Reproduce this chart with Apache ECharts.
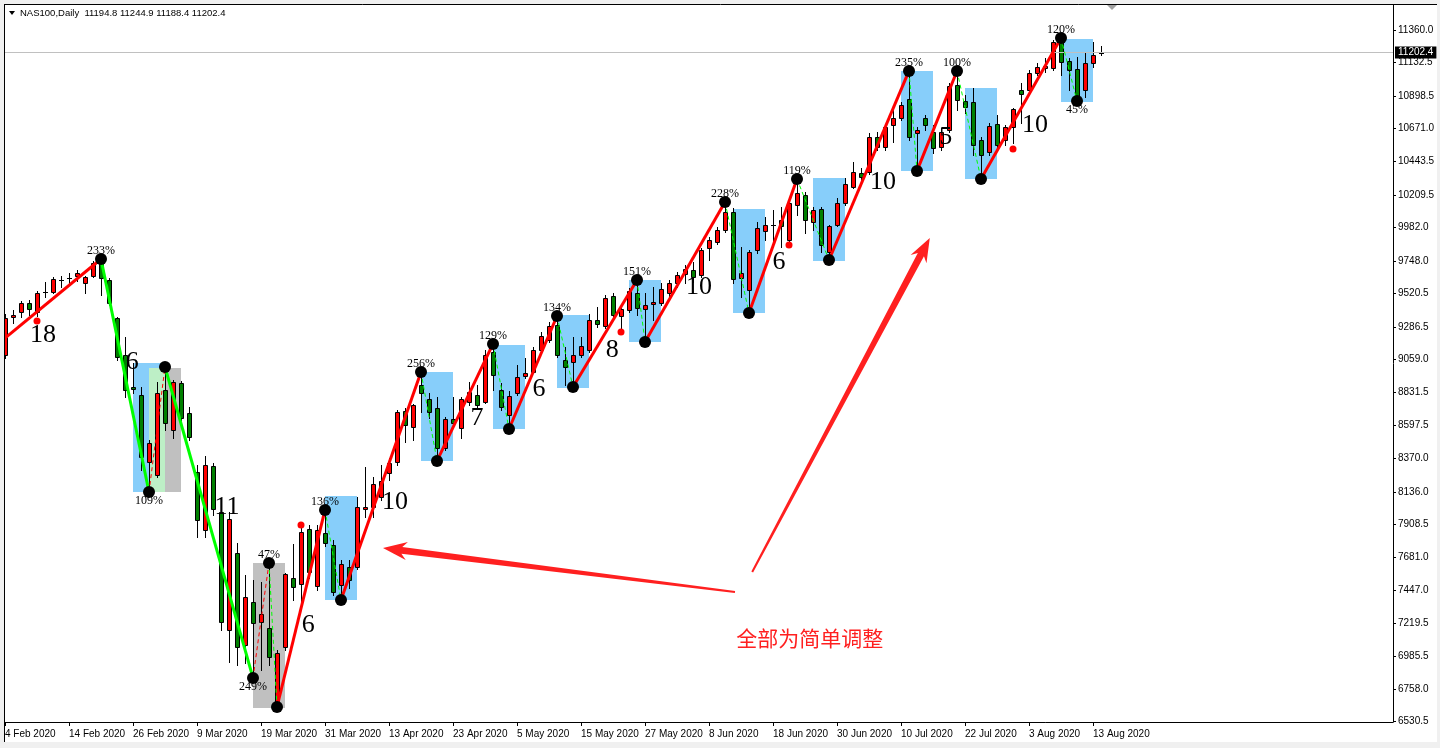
<!DOCTYPE html>
<html>
<head>
<meta charset="utf-8">
<title>NAS100 Daily</title>
<script src="https://cdn.jsdelivr.net/npm/echarts@6.0.0/dist/echarts.min.js"></script>
<style>
html,body{margin:0;padding:0;background:#f0f0f0;overflow:hidden;}
#chart{width:1440px;height:748px;}
</style>
</head>
<body>
<div id="chart"></div>
<script>
// ---------------- data ----------------
const symbolName = 'NAS100';
const periodName = 'Daily';

const opens = [9091,9356,9391,9454,9391,9524,9531,9607,9621,9642,9593,9642,9754,9614,9349,9091,8867,8811,8344,8253,
8847,8567,8895,8686,8274,7869,8316,7995,7171,7708,7066,7366,7227,7185,6661,7052,7534,7492,7876,7478,
7848,7764,7485,7611,7611,8016,8030,8099,8267,8344,8700,8588,8881,8784,8721,8442,8644,8581,8763,8811,
8763,9112,8847,8672,8825,8944,8972,9126,9196,9300,9056,9042,9091,9126,9335,9293,9503,9363,9405,9524,
9412,9447,9454,9524,9593,9656,9684,9649,9838,9880,9964,10089,9628,9545,9824,9957,9992,10033,9894,10138,
10208,10020,10110,9810,9999,10152,10264,10362,10369,10613,10543,10697,10746,10878,10641,10746,10648,10543,10662,10976,
10864,10857,10592,10508,10704,10592,10683,10941,10941,11060,11095,11095,11276,11144,11088,10941,11130,11194.8];
const highs = [9377,9405,9468,9475,9538,9600,9635,9642,9663,9684,9642,9747,9768,9628,9356,9216,9035,8867,8497,8902,
9007,8916,8909,8728,8323,8386,8337,8030,7995,7778,7555,7520,7506,7639,7031,7569,7771,7904,7904,7904,
8009,7799,7659,7659,8099,8309,8239,8323,8372,8707,8721,8749,8972,8825,8798,8658,8798,8798,8902,8881,
9126,9168,8895,8839,9021,9070,9147,9251,9321,9363,9147,9216,9216,9377,9426,9510,9524,9426,9559,9614,
9524,9566,9593,9614,9670,9719,9740,9838,9915,9985,10159,10117,9845,9824,10020,10054,10103,10124,10173,10320,
10229,10124,10124,9999,10187,10327,10438,10396,10641,10648,10697,10801,10857,11074,10683,10766,10697,10676,10990,11074,
10906,10955,10613,10711,10766,10697,10815,10990,11081,11130,11165,11290,11304,11165,11172,11199,11276,11244.9];
const lows = [9070,9314,9356,9370,9363,9496,9524,9566,9580,9607,9524,9635,9510,9440,9056,8798,8826,8288,8141,8239,
8567,8511,8637,8497,7820,7820,7974,7171,6947,6926,6940,6836,6892,6926,6633,7031,7380,7359,7534,7450,
7757,7415,7380,7464,7597,7960,7960,8078,8218,8323,8483,8497,8693,8651,8351,8428,8588,8511,8742,8721,
8756,8847,8707,8574,8811,8930,8965,9112,9182,9077,8881,8867,9077,9112,9286,9279,9356,9265,9391,9370,
9182,9335,9440,9503,9566,9593,9600,9635,9754,9866,9950,9593,9496,9384,9803,9894,9873,9845,9880,10068,
9943,9964,9810,9754,9992,10138,10257,10313,10355,10522,10522,10578,10732,10592,10376,10662,10501,10522,10648,10801,
10780,10487,10320,10487,10536,10557,10571,10711,10927,11046,11067,11081,11046,10941,10864,10892,11102,11188.4];
const closes = [9349,9370,9454,9412,9524,9531,9621,9614,9628,9663,9635,9733,9628,9454,9077,8847,8853,8379,8476,8825,
8616,8902,8651,8518,7939,8323,8016,7227,7946,7052,7401,7220,7283,6982,7010,7562,7471,7855,7576,7869,
7778,7436,7632,7520,8030,8030,8190,8211,8337,8693,8602,8742,8825,8693,8442,8644,8616,8784,8832,8742,
9091,8951,8728,8804,8937,8965,9126,9223,9293,9091,9007,9091,9154,9335,9307,9489,9370,9412,9538,9419,
9440,9461,9552,9593,9649,9691,9635,9824,9894,9964,10089,9621,9663,9810,9978,9999,9999,9992,10152,10222,
10033,10103,9859,9992,10152,10285,10369,10334,10613,10543,10683,10746,10836,10613,10662,10697,10536,10648,10969,10871,
10822,10557,10487,10690,10557,10683,10808,10913,11060,11102,11109,11276,11137,11081,10892,11130,11185,11202.4];

// x axis: bar number of each date label, and the labels
const xTickBars = [0,8,16,24,32,40,48,56,64,72,80,88,96,104,112,120,128,136];
const xTickLabels = ['4 Feb 2020','14 Feb 2020','26 Feb 2020','9 Mar 2020','19 Mar 2020','31 Mar 2020',
  '13 Apr 2020','23 Apr 2020','5 May 2020','15 May 2020','27 May 2020','8 Jun 2020','18 Jun 2020',
  '30 Jun 2020','10 Jul 2020','22 Jul 2020','3 Aug 2020','13 Aug 2020'];
// price axis labels
const yTicks = [6530.5,6758.0,6985.5,7219.5,7447.0,7681.0,7908.5,8136.0,8370.0,8597.5,8831.5,
  9059.0,9286.5,9520.5,9748.0,9982.0,10209.5,10443.5,10671.0,10898.5,11132.5,11360.0];

// zigzag pivots (bar, price)
const pivotBar   = [0,12,18,20,31,33,34,40,42,52,54,61,63,69,71,79,80,90,93,99,103,113,114,119,122,132,134];
const pivotPrice = [9209,9761,8134,9007,6836,7639,6633,8009,7380,8972,8351,9168,8574,9363,8867,9614,9182,10159,9384,10320,9754,11074,10376,11074,10320,11304,10864];
const thickRedSeg   = [[0,1],[6,7],[8,9],[10,11],[12,13],[14,15],[16,17],[18,19],[20,21],[22,23],[24,25]];
const thickGreenSeg = [[1,2],[3,4]];
const thinRedSeg    = [[2,3],[4,5]];
const thinGreenSeg  = [[5,6],[7,8],[9,10],[11,12],[13,14],[15,16],[17,18],[19,20],[21,22],[23,24],[25,26]];
const dotPivots = [1,2,3,4,5,6,7,8,9,10,11,12,13,14,15,16,17,18,19,20,21,22,23,24,25,26];

// percentage labels at pivots
const pctPivot = [1,2,4,5,7,9,11,13,15,17,19,21,23,25,26];
const pctText  = ['233%','109%','249%','47%','136%','256%','129%','134%','151%','228%','119%','235%','100%','120%','45%'];
const pctBelow = [0,1,1,0,0,0,0,0,0,0,0,0,0,0,1];

// count numbers
const numBar   = [4.75,15.9,27.75,37.9,48.75,59,66.75,75.9,86.75,96.75,109.75,117.6,128.75];
const numPrice = [9230,9042,8030,7206,8064,8651,8853,9126,9566,9740,10299,10613,10697];
const numText  = ['18','6','11','6','10','7','6','8','10','6','10','5','10'];

// small red dots
const redDotBar   = [4,37,77,98,126];
const redDotPrice = [9328,7904,9251,9859,10529];

// rectangles [barFrom, barTo, priceTop, priceBottom]
const blueRects = [[16,20,9035,8134],[40,44,8106,7380],[52,56,8972,8351],[61,65,9161,8574],[69,73,9370,8861],
  [78,82,9614,9182],[91,95,10110,9384],[101,105,10327,9747],[112,116,11074,10376],[120,124,10955,10320],[132,136,11297,10857]];
const grayRects = [[18,22,9000,8134],[31,35,7639,6626]];
const mixRects  = [[18,20,9000,8134]];

// arrows [tailBar, tailPrice, tipBar, tipPrice]
const arrows = [[91.25,7436,47.25,7743],[93.4,7576,115.6,9908]];
// note text
const noteText = '全部为简单调整';
const notePos = [100.6, 7115];

// ---------------- chart ----------------
const FONT = '"Liberation Sans", Arial, sans-serif';
const SERIF = '"Liberation Serif", "Times New Roman", serif';
const last = opens.length - 1;
const headerText = symbolName + ',' + periodName + '  ' + [opens[last],highs[last],lows[last],closes[last]].map(v=>v.toFixed(1)).join(' ');

const candleData = opens.map((o,i)=>[i,o,highs[i],lows[i],closes[i]]);
const seg = (list)=>list.map(([a,b])=>({coords:[[pivotBar[a],pivotPrice[a]],[pivotBar[b],pivotPrice[b]]]}));

function renderCandle(params, api){
  const i = api.value(0), o = api.value(1), h = api.value(2), l = api.value(3), c = api.value(4);
  const x = Math.round(api.coord([i,o])[0]);
  const yO = Math.round(api.coord([i,o])[1]);
  const yC = Math.round(api.coord([i,c])[1]);
  const yH = Math.round(api.coord([i,h])[1]);
  const yL = Math.round(api.coord([i,l])[1]);
  const top = Math.min(yO,yC), bot = Math.max(yO,yC);
  const up = c >= o;
  const ch = [{type:'line', shape:{x1:x+0.5,y1:yH,x2:x+0.5,y2:yL+1}, style:{stroke:'#000',lineWidth:1}}];
  if (bot - top >= 2){
    ch.push({type:'rect', shape:{x:x-1.5,y:top+0.5,width:4,height:bot-top}, style:{fill:up?'#ff0000':'#008000',stroke:'#000',lineWidth:1}});
  } else {
    ch.push({type:'line', shape:{x1:x-2,y1:top+0.5,x2:x+3,y2:top+0.5}, style:{stroke:'#000',lineWidth:1}});
  }
  return {type:'group', children:ch};
}
function rectRenderer(color){
  return function(params, api){
    const p1 = api.coord([api.value(0), api.value(2)]);
    const p2 = api.coord([api.value(1), api.value(3)]);
    const x = Math.round(p1[0]), y = Math.round(p1[1]);
    return {type:'rect', shape:{x:x, y:y, width:Math.round(p2[0])-x, height:Math.round(p2[1])-y}, style:{fill:color}};
  };
}
function textRenderer(texts, font, color, offsets){
  return function(params, api){
    const p = api.coord([api.value(0), api.value(1)]);
    const dy = offsets ? offsets[params.dataIndex] : 0;
    return {type:'text', x:p[0], y:p[1]+dy, style:{text:texts[params.dataIndex], font:font, fill:color, align:'center', verticalAlign:'middle'}};
  };
}
function renderArrow(params, api){
  const t = api.coord([api.value(0), api.value(1)]);
  const p = api.coord([api.value(2), api.value(3)]);
  const dx = p[0]-t[0], dy = p[1]-t[1];
  const len = Math.sqrt(dx*dx+dy*dy);
  const ux = dx/len, uy = dy/len, nx = -uy, ny = ux;
  const headL = 24, headW = 9, shaftEnd = 3.5, shaftStart = 1;
  const bx = p[0]-ux*headL, by = p[1]-uy*headL;
  const bx2 = p[0]-ux*(headL-5), by2 = p[1]-uy*(headL-5);
  const pts = [
    [t[0]+nx*shaftStart, t[1]+ny*shaftStart],
    [bx2+nx*shaftEnd, by2+ny*shaftEnd],
    [bx+nx*headW, by+ny*headW],
    [p[0], p[1]],
    [bx-nx*headW, by-ny*headW],
    [bx2-nx*shaftEnd, by2-ny*shaftEnd],
    [t[0]-nx*shaftStart, t[1]-ny*shaftStart]
  ];
  return {type:'polygon', shape:{points:pts}, style:{fill:'#ff2020'}};
}

const chart = echarts.init(document.getElementById('chart'), null, {renderer:'canvas'});
const option = {
  animation:false,
  backgroundColor:'#ffffff',
  grid:{left:1, right:47, top:5, bottom:26, containLabel:false},
  xAxis:{
    type:'value', min:-0.5, max:173.5,
    axisLine:{show:true, onZero:false, lineStyle:{color:'#000', width:1}},
    axisTick:{show:true, customValues:xTickBars, length:4, lineStyle:{color:'#000'}},
    axisLabel:{show:true, customValues:xTickBars, formatter:(v)=>{const k=xTickBars.indexOf(Math.round(v));return k>=0?xTickLabels[k]:'';},
      align:'left', margin:7, color:'#000', fontSize:10, fontFamily:FONT},
    splitLine:{show:false}
  },
  yAxis:{
    type:'value', position:'right', min:6528.4, max:11534.5, scale:true,
    axisLine:{show:true, onZero:false, lineStyle:{color:'#000', width:1}},
    axisTick:{show:true, customValues:yTicks, length:3, lineStyle:{color:'#000'}},
    axisLabel:{show:true, customValues:yTicks, formatter:(v)=>v.toFixed(1), margin:5, color:'#000', fontSize:10, fontFamily:FONT},
    splitLine:{show:false}
  },
  graphic:[
    {type:'rect', shape:{x:0,y:0,width:1440,height:4}, style:{fill:'#f0f0f0'}, z:100, silent:true},
    {type:'rect', shape:{x:0,y:0,width:4,height:748}, style:{fill:'#f0f0f0'}, z:100, silent:true},
    {type:'rect', shape:{x:1437,y:0,width:3,height:748}, style:{fill:'#f0f0f0'}, z:100, silent:true},
    {type:'rect', shape:{x:0,y:742,width:1440,height:6}, style:{fill:'#f0f0f0'}, z:100, silent:true},
    {type:'line', shape:{x1:4,y1:4.5,x2:1437,y2:4.5}, style:{stroke:'#000',lineWidth:1}, z:100, silent:true},
    {type:'line', shape:{x1:4.5,y1:4,x2:4.5,y2:742}, style:{stroke:'#000',lineWidth:1}, z:100, silent:true},
    {type:'polygon', shape:{points:[[9,11],[15,11],[12,15]]}, style:{fill:'#000'}, z:100, silent:true},
    {type:'text', x:20, y:13, style:{text:headerText, fill:'#000', font:'9.5px '+FONT, verticalAlign:'middle'}, z:100, silent:true},
    {type:'polygon', shape:{points:[[1107,5],[1117,5],[1112,10]]}, style:{fill:'#a0a0a0'}, z:100, silent:true}
  ],
  series:[
    {type:'custom', name:'blue', renderItem:rectRenderer('#87cefa'), data:blueRects, z:1, silent:true, clip:true},
    {type:'custom', name:'gray', renderItem:rectRenderer('#c0c0c0'), data:grayRects, z:1, silent:true, clip:true},
    {type:'custom', name:'mix', renderItem:rectRenderer('#bdefc6'), data:mixRects, z:1, silent:true, clip:true},
    {type:'line', name:'price', data:[], symbol:'none', z:2, silent:true,
      markLine:{silent:true, symbol:'none', animation:false,
        lineStyle:{color:'#c0c0c0', type:'solid', width:1},
        label:{show:true, position:'end', distance:2, formatter:closes[last].toFixed(1), backgroundColor:'#000', color:'#fff',
          padding:[1,3,1,3], fontSize:10, fontFamily:FONT},
        data:[{yAxis:closes[last]}]}},
    {type:'custom', name:'candles', renderItem:renderCandle, data:candleData, encode:{x:0, y:[1,2,3,4]}, z:3, clip:true, silent:true},
    {type:'custom', name:'nums', renderItem:textRenderer(numText, '26px '+SERIF, '#000'), data:numBar.map((b,i)=>[b,numPrice[i]]), z:4, silent:true},
    {type:'lines', coordinateSystem:'cartesian2d', data:seg(thinRedSeg), lineStyle:{color:'#ff0000', width:1, type:[4,3], opacity:1}, z:5, silent:true},
    {type:'lines', coordinateSystem:'cartesian2d', data:seg(thinGreenSeg), lineStyle:{color:'#00ff00', width:1, type:[4,3], opacity:1}, z:5, silent:true},
    {type:'lines', coordinateSystem:'cartesian2d', data:seg(thickRedSeg), lineStyle:{color:'#ff0000', width:3, opacity:1}, z:6, silent:true},
    {type:'lines', coordinateSystem:'cartesian2d', data:seg(thickGreenSeg), lineStyle:{color:'#00ff00', width:3, opacity:1}, z:6, silent:true},
    {type:'custom', name:'pct', renderItem:textRenderer(pctText, '12px '+SERIF, '#000', pctBelow.map(b=>b?9:-8)),
      data:pctPivot.map(k=>[pivotBar[k],pivotPrice[k]]), z:7, silent:true},
    {type:'scatter', name:'dots', data:dotPivots.map(k=>[pivotBar[k],pivotPrice[k]]), symbol:'circle', symbolSize:12,
      itemStyle:{color:'#000', opacity:1}, z:8, silent:true},
    {type:'scatter', name:'reddots', data:redDotBar.map((b,i)=>[b,redDotPrice[i]]), symbol:'circle', symbolSize:7,
      itemStyle:{color:'#ff0000', opacity:1}, z:8, silent:true},
    {type:'custom', name:'arrows', renderItem:renderArrow, data:arrows, z:6, silent:true},
    {type:'custom', name:'note', renderItem:textRenderer([noteText], '21px "Noto Sans CJK SC", sans-serif', '#ff2020'), data:[notePos], z:7, silent:true}
  ]
};
chart.setOption(option);
</script>
</body>
</html>
